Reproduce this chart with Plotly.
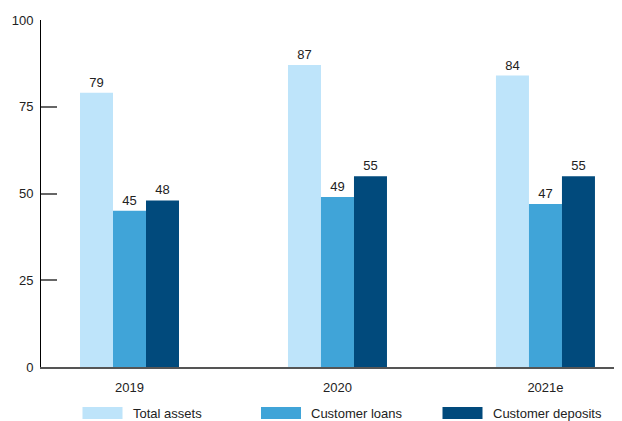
import plotly.graph_objects as go

categories = ["2019", "2020", "2021e"]
series_names = ["Total assets", "Customer loans", "Customer deposits"]
total_assets = [79, 87, 84]
customer_loans = [45, 49, 47]
customer_deposits = [48, 55, 55]
y_ticks = [0, 25, 50, 75, 100]

colors = ["#BEE4FA", "#40A4D8", "#014A7C"]
values = [total_assets, customer_loans, customer_deposits]

FONT = "Liberation Sans, Arial, sans-serif"
OFF = 8  # page body margin
W, H = 622 - OFF, 421 - OFF
ML, MR, MT, MB = 41 - OFF, 0, 20 - OFF, 54

fig = go.Figure()
for name, vals, col in zip(series_names, values, colors):
    fig.add_trace(go.Bar(
        x=categories, y=vals, name=name,
        marker=dict(color=col, line=dict(width=0)),
        text=[str(v) for v in vals], textposition="outside",
        textfont=dict(size=13, color="#222222", family=FONT),
        cliponaxis=False, showlegend=False,
    ))

# manual legend (wide swatches), positions given in page pixels
pw = W - ML - MR
ph = H - MT - MB
def px_x(p):
    return (p - OFF - ML) / pw
def px_y(p):
    return (H - MB - (p - OFF)) / ph

legend_x = [82.5, 261, 442.5]
shapes = []
annotations = []
for name, col, lx in zip(series_names, colors, legend_x):
    shapes.append(dict(type="rect", xref="paper", yref="paper",
                       x0=px_x(lx), x1=px_x(lx + 40), y0=px_y(419), y1=px_y(407),
                       fillcolor=col, line=dict(width=0)))
    annotations.append(dict(xref="paper", yref="paper", x=px_x(lx + 48), y=px_y(413),
                            text=name, showarrow=False, xanchor="left", yanchor="middle",
                            font=dict(size=13, color="#222222", family=FONT)))

fig.update_layout(
    width=W, height=H,
    margin=dict(l=ML, r=MR, t=MT, b=MB, autoexpand=False),
    paper_bgcolor="white", plot_bgcolor="white",
    barmode="group", bargap=0.524, bargroupgap=0,
    font=dict(family=FONT, size=13, color="#222222"),
    shapes=shapes, annotations=annotations,
    xaxis=dict(type="category", range=[-0.4255, 2.368], showline=True,
               linecolor="#555555", linewidth=1.5, ticks="", showgrid=False,
               tickfont=dict(size=13, color="#222222"), ticklabelstandoff=8,
               automargin=False),
    yaxis=dict(range=[0, 100], tickvals=y_ticks, showline=True, linecolor="#000000",
               linewidth=1, ticks="inside", ticklen=16, tickcolor="#666666",
               tickwidth=1.5, showgrid=False, zeroline=False,
               tickfont=dict(size=13, color="#222222"), ticklabelstandoff=4,
               automargin=False),
)

fig.write_html("out.html")
